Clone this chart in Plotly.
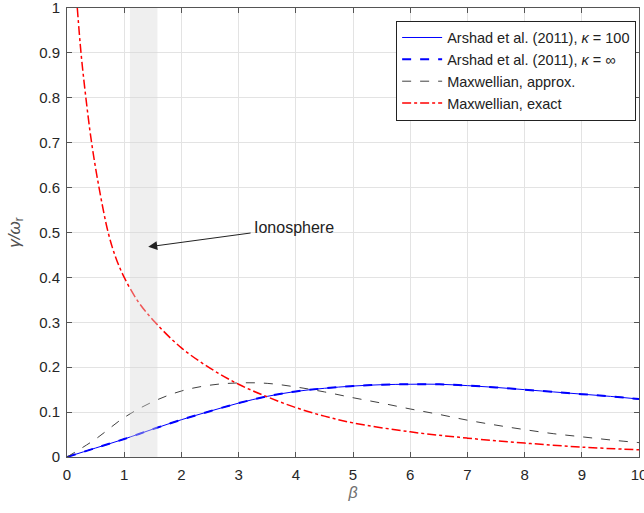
import plotly.graph_objects as go

# ---- data ----
beta_red = [0.18, 0.245, 0.33, 0.43, 0.56, 0.72, 0.85, 1.0, 1.25, 1.54, 2.0, 2.5, 3.0, 3.5, 4.0, 4.5, 5.0, 6.0, 7.0, 8.0, 9.0, 10.0]
maxwell_exact = [1.0, 0.9, 0.8, 0.7, 0.6, 0.5, 0.445, 0.4, 0.345, 0.3, 0.243, 0.198, 0.162, 0.134, 0.11, 0.091, 0.076, 0.056, 0.042, 0.031, 0.022, 0.016]

beta = [0, 0.5, 1, 1.5, 2, 2.5, 3, 3.5, 4, 4.5, 5, 5.5, 6, 6.5, 7, 7.5, 8, 8.5, 9, 9.5, 10]
arshad_k100 = [0, 0.02, 0.04, 0.062, 0.083, 0.102, 0.12, 0.135, 0.146, 0.153, 0.158, 0.161, 0.162, 0.162, 0.159, 0.155, 0.15, 0.145, 0.14, 0.135, 0.129]
arshad_kinf = [0, 0.02, 0.04, 0.062, 0.083, 0.102, 0.12, 0.135, 0.146, 0.153, 0.158, 0.161, 0.162, 0.162, 0.159, 0.155, 0.15, 0.145, 0.14, 0.135, 0.129]
maxwell_approx = [0, 0.04, 0.088, 0.123, 0.147, 0.16, 0.165, 0.164, 0.156, 0.145, 0.132, 0.12, 0.107, 0.095, 0.082, 0.071, 0.061, 0.052, 0.045, 0.038, 0.032]

x_ticks = [0, 1, 2, 3, 4, 5, 6, 7, 8, 9, 10]
x_ticktext = ["0", "1", "2", "3", "4", "5", "6", "7", "8", "9", "10"]
y_ticks = [0, 0.1, 0.2, 0.3, 0.4, 0.5, 0.6, 0.7, 0.8, 0.9, 1]
y_ticktext = ["0", "0.1", "0.2", "0.3", "0.4", "0.5", "0.6", "0.7", "0.8", "0.9", "1"]

iono_band = [1.1, 1.58]
names = ["Arshad et al. (2011), <i>κ</i> = 100",
         "Arshad et al. (2011), <i>κ</i> = ∞",
         "Maxwellian, approx.",
         "Maxwellian, exact"]

FONT = "Liberation Sans, Arial, sans-serif"

fig = go.Figure()
fig.add_trace(go.Scatter(x=beta, y=arshad_k100, mode="lines", name=names[0],
                         line=dict(color="#0000ff", width=1, shape="spline")))
fig.add_trace(go.Scatter(x=beta, y=arshad_kinf, mode="lines", name=names[1],
                         line=dict(color="#0000ff", width=2, dash="dash", shape="spline")))
fig.add_trace(go.Scatter(x=beta, y=maxwell_approx, mode="lines", name=names[2],
                         line=dict(color="#404040", width=1, dash="dash", shape="spline")))
fig.add_trace(go.Scatter(x=beta_red, y=maxwell_exact, mode="lines", name=names[3],
                         line=dict(color="#ff0000", width=1.5, dash="dashdot", shape="spline")))

fig.add_shape(type="rect", xref="x", yref="y", x0=iono_band[0], x1=iono_band[1], y0=0, y1=1,
              fillcolor="rgba(215,215,215,0.4)", line=dict(width=0), layer="above")

fig.add_annotation(x=1.42, y=0.468, xref="x", yref="y", ax=3.97, ay=0.512, axref="x", ayref="y",
                   text="Ionosphere", showarrow=True, arrowhead=2, arrowsize=1.8, arrowwidth=1,
                   arrowcolor="#222222", standoff=0, startstandoff=2,
                   font=dict(family=FONT, size=16, color="#222222"))

axis_common = dict(showline=True, linecolor="#555555", linewidth=1, mirror="ticks",
                   ticks="inside", ticklen=5, tickcolor="#555555",
                   showgrid=True, gridcolor="#e3e3e3", gridwidth=1, zeroline=False,
                   ticklabeloverflow="allow", automargin=False,
                   tickfont=dict(family=FONT, size=15, color="#262626"))

fig.update_xaxes(range=[0, 10], tickvals=x_ticks, ticktext=x_ticktext, ticklabelstandoff=4,
                 **axis_common,
                 title=dict(text="<i>β</i>", font=dict(family=FONT, size=16, color="#707070"), standoff=4))
fig.update_yaxes(range=[0, 1], tickvals=y_ticks, ticktext=y_ticktext, ticklabelstandoff=3,
                 **axis_common,
                 title=dict(text="<i>γ/ω</i><sub>r</sub>", font=dict(family=FONT, size=17, color="#505050"), standoff=14))

fig.update_layout(
    width=644, height=513,
    margin=dict(l=67, r=5, t=8, b=56),
    paper_bgcolor="white", plot_bgcolor="white",
    font=dict(family=FONT, color="#262626"),
    legend=dict(x=0.995, y=0.972, xanchor="right", yanchor="top",
                bgcolor="white", bordercolor="#222222", borderwidth=1,
                font=dict(family=FONT, size=14.5, color="#222222"),
                tracegroupgap=0, itemwidth=40),
    showlegend=True,
)

fig.write_html("out.html")
